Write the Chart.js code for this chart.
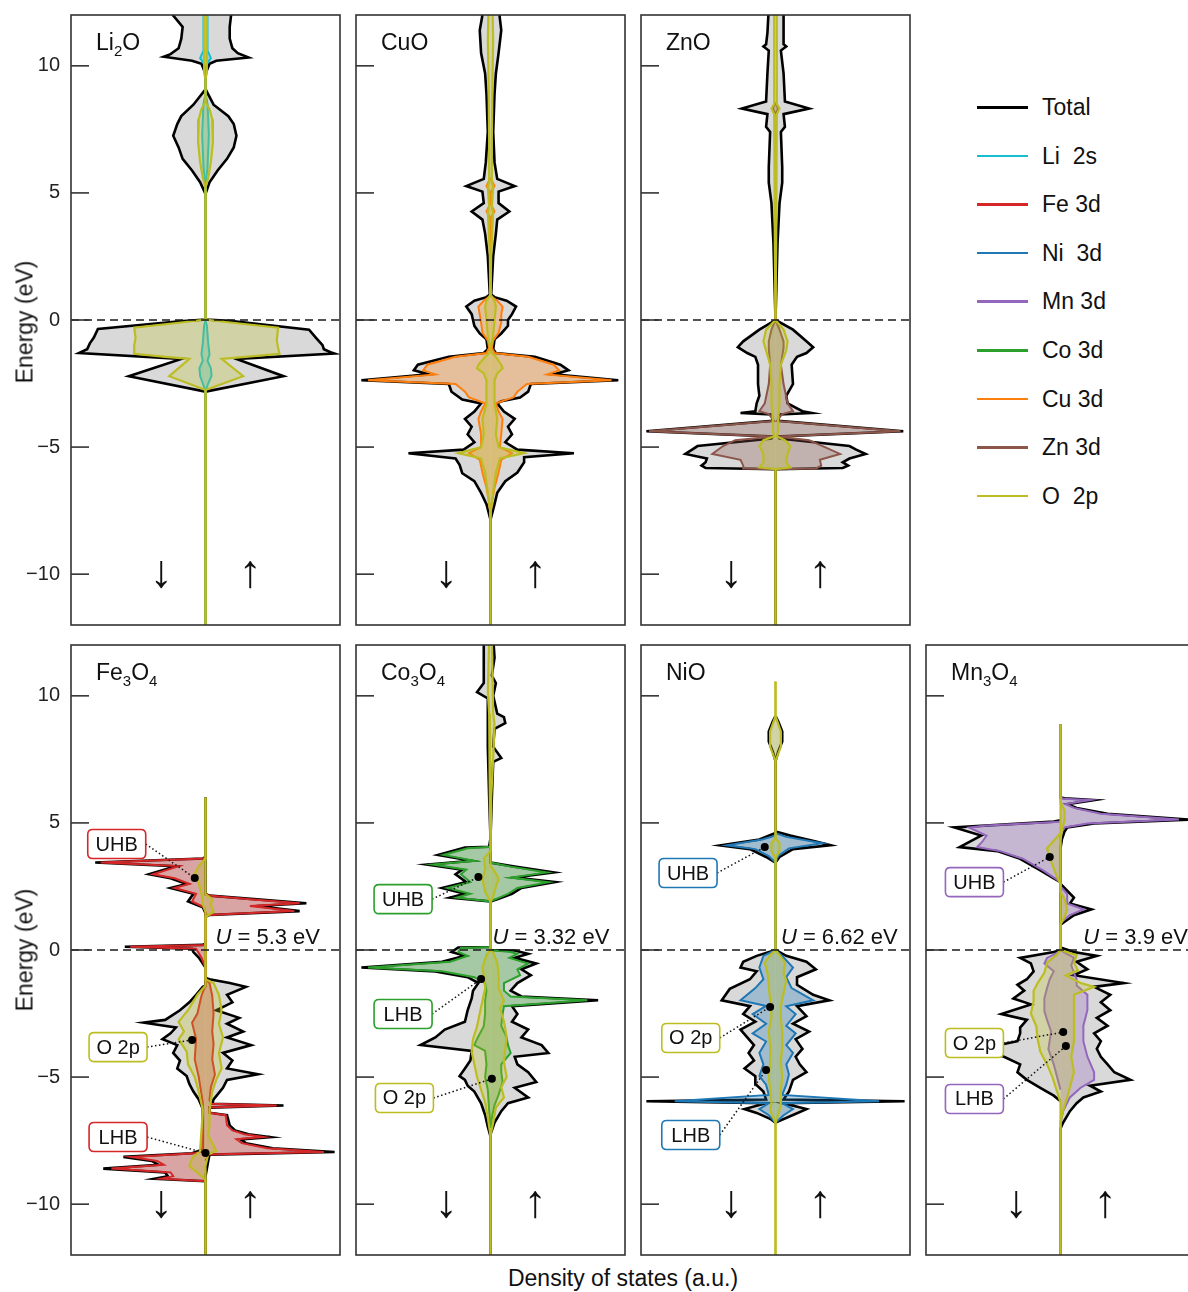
<!DOCTYPE html>
<html>
<head>
<meta charset="utf-8">
<title>Projected density of states of transition-metal oxides</title>
<script src="https://cdn.jsdelivr.net/npm/chart.js@4.4.1/dist/chart.umd.min.js"></script>
<style>
  html, body { margin:0; padding:0; background:#fff; }
  body { width:1188px; height:1292px; overflow:hidden; position:relative;
         font-family:"Liberation Sans", Arial, Helvetica, sans-serif; color:#111; }
  canvas { position:absolute; }
  .axlab { position:absolute; font-size:23px; white-space:nowrap; }
  .rot { transform: translate(-50%,-50%) rotate(-90deg); }
  .hor { transform: translate(-50%,-50%); }
  .leg { position:absolute; left:977px; height:30px; font-size:23px; white-space:pre; }
  .leg i { position:absolute; left:0; top:14px; width:51px; height:2.5px; }
  .leg span { position:absolute; left:65px; top:0; line-height:30px; }
</style>
</head>
<body>
<script>
// ---- energy axis ----------------------------------------------------------
const energyTicks = [-10, -5, 0, 5, 10];

// ---- DOS curves: [energy (eV), magnitude]; spin-down drawn to the left ----
// Li2O
const li2oTotUp = [[12.3,0.19],[11.98,0.19],[11.53,0.18],[11.07,0.18],[10.69,0.2],[10.5,0.24],[10.33,0.32],[10.2,0.08],[10.08,0.03],[9.69,0],[9.08,0],[8.47,0.06],[8.02,0.17],[7.71,0.21],[7.25,0.23],[6.79,0.21],[6.34,0.16],[5.88,0.09],[5.42,0.03],[4.96,0],[0.02,0],[-0.03,0.18],[-0.38,0.77],[-0.69,0.82],[-0.99,0.87],[-1.15,0.88],[-1.27,0.93],[-1.32,0.96],[-1.53,0.23],[-2.21,0.58],[-2.82,0],[-12.3,0]];
const li2oTotDn = [[12.3,0.24],[11.98,0.24],[11.53,0.17],[11.07,0.18],[10.69,0.2],[10.46,0.26],[10.36,0.31],[10.2,0.1],[10.08,0.03],[9.69,0],[9.08,0],[8.47,0.09],[8.02,0.18],[7.71,0.21],[7.25,0.24],[6.79,0.2],[6.34,0.17],[5.88,0.1],[5.42,0.04],[4.96,0],[0.02,0],[-0.05,0.19],[-0.35,0.8],[-0.69,0.83],[-0.92,0.86],[-1.15,0.88],[-1.3,0.94],[-1.53,0.18],[-2.21,0.57],[-2.82,0],[-12.3,0]];
const li2oLiUp  = [[12.3,0.015],[10.6,0.015],[10.3,0.04],[10.12,0.015],[9.85,0],[8.9,0],[8.5,0.015],[7.3,0.025],[6.0,0.015],[5.3,0],[-0.05,0],[-0.2,0.01],[-0.9,0.02],[-1.35,0.03],[-1.6,0.015],[-1.9,0.04],[-2.2,0.045],[-2.5,0.02],[-2.8,0],[-12.3,0]];
const li2oLiDn  = [[12.3,0.015],[10.6,0.015],[10.3,0.04],[10.12,0.015],[9.85,0],[8.9,0],[8.5,0.015],[7.3,0.025],[6.0,0.015],[5.3,0],[-0.05,0],[-0.2,0.01],[-0.9,0.02],[-1.35,0.03],[-1.6,0.02],[-1.9,0.045],[-2.2,0.04],[-2.5,0.02],[-2.8,0],[-12.3,0]];
const li2oOUp   = [[12.3,0.01],[9.7,0.01],[9.5,0],[8.6,0],[8.3,0.03],[7.9,0.05],[7.0,0.055],[6.2,0.04],[5.6,0.02],[5.2,0],[0.02,0],[-0.08,0.15],[-0.3,0.54],[-0.8,0.53],[-1.1,0.54],[-1.33,0.55],[-1.45,0.3],[-1.53,0.12],[-2.21,0.28],[-2.75,0],[-12.3,0]];
const li2oODn   = [[12.3,0.01],[9.7,0.01],[9.5,0],[8.6,0],[8.3,0.03],[7.9,0.05],[7.0,0.055],[6.2,0.04],[5.6,0.02],[5.2,0],[0.02,0],[-0.08,0.15],[-0.3,0.53],[-0.7,0.52],[-1.0,0.53],[-1.33,0.53],[-1.45,0.3],[-1.53,0.12],[-2.21,0.27],[-2.75,0],[-12.3,0]];

// CuO
const cuoTotUp = [[12.3,0.06],[11.4,0.08],[10.5,0.06],[9.7,0.04],[8.9,0.03],[7.4,0.02],[6.2,0.03],[5.55,0.05],[5.27,0.18],[5.05,0.06],[4.6,0.06],[4.27,0.14],[3.95,0.05],[3.4,0.04],[2.5,0.02],[1.5,0.01],[1.0,0.005],[0.9,0.03],[0.76,0.12],[0.53,0.19],[0.23,0.16],[0.0,0.13],[-0.23,0.13],[-0.53,0.08],[-0.76,0.03],[-1.15,0.02],[-1.3,0.04],[-1.45,0.33],[-1.76,0.52],[-1.98,0.58],[-2.14,0.47],[-2.37,0.95],[-2.52,0.3],[-2.82,0.28],[-3.05,0.22],[-3.2,0.08],[-3.28,0.05],[-3.6,0.1],[-3.89,0.18],[-4.2,0.13],[-4.5,0.16],[-4.81,0.11],[-5.1,0.2],[-5.24,0.62],[-5.4,0.25],[-5.6,0.25],[-6.0,0.2],[-6.34,0.11],[-6.8,0.05],[-7.25,0.03],[-7.86,0],[-12.3,0]];
const cuoTotDn = [[12.3,0.05],[11.4,0.08],[10.5,0.07],[9.7,0.04],[8.9,0.03],[7.4,0.02],[6.2,0.035],[5.55,0.05],[5.27,0.18],[5.05,0.06],[4.6,0.05],[4.27,0.14],[3.95,0.06],[3.4,0.04],[2.5,0.02],[1.5,0.01],[1.0,0.005],[0.9,0.03],[0.76,0.12],[0.53,0.18],[0.23,0.14],[0.0,0.13],[-0.23,0.12],[-0.53,0.08],[-0.76,0.03],[-1.15,0.02],[-1.3,0.05],[-1.45,0.31],[-1.76,0.54],[-1.98,0.57],[-2.14,0.46],[-2.37,0.96],[-2.52,0.31],[-2.82,0.29],[-3.13,0.21],[-3.28,0.07],[-3.6,0.12],[-3.89,0.19],[-4.2,0.14],[-4.5,0.17],[-4.81,0.12],[-5.1,0.2],[-5.24,0.61],[-5.45,0.26],[-5.7,0.23],[-6.03,0.21],[-6.34,0.12],[-6.8,0.07],[-7.25,0.03],[-7.86,0],[-12.3,0]];
const cuoCuUp  = [[5.6,0],[5.27,0.03],[5.0,0],[4.6,0],[4.27,0.03],[4.0,0],[0.95,0],[0.76,0.05],[0.53,0.09],[0.2,0.08],[-0.1,0.08],[-0.5,0.06],[-0.8,0.02],[-1.1,0.01],[-1.3,0.03],[-1.45,0.28],[-1.76,0.47],[-1.98,0.51],[-2.14,0.42],[-2.37,0.9],[-2.52,0.27],[-2.82,0.2],[-3.05,0.17],[-3.28,0.04],[-3.6,0.06],[-3.89,0.09],[-4.5,0.08],[-5.0,0.07],[-5.24,0.16],[-5.5,0.08],[-6.0,0.06],[-6.6,0.03],[-7.2,0.01],[-7.7,0]];
const cuoCuDn  = [[5.6,0],[5.27,0.03],[5.0,0],[4.6,0],[4.27,0.03],[4.0,0],[0.95,0],[0.76,0.05],[0.53,0.09],[0.2,0.08],[-0.1,0.07],[-0.5,0.06],[-0.8,0.02],[-1.1,0.01],[-1.3,0.03],[-1.45,0.26],[-1.76,0.47],[-1.98,0.5],[-2.14,0.41],[-2.37,0.91],[-2.52,0.26],[-2.82,0.19],[-3.05,0.16],[-3.28,0.04],[-3.6,0.07],[-3.89,0.09],[-4.5,0.07],[-5.0,0.07],[-5.24,0.16],[-5.5,0.08],[-6.0,0.06],[-6.6,0.03],[-7.2,0.01],[-7.7,0]];
const cuoOUp   = [[12.3,0.015],[11.0,0.02],[9.5,0.015],[7.0,0.01],[5.4,0.01],[5.27,0.02],[4.4,0.01],[4.27,0.02],[2.5,0.005],[1.0,0],[0.76,0.03],[0.53,0.04],[0.0,0.03],[-0.6,0.02],[-1.15,0],[-1.3,0.01],[-1.45,0.04],[-1.76,0.08],[-1.9,0.09],[-2.1,0.05],[-2.37,0.03],[-2.8,0.03],[-3.3,0.03],[-3.89,0.05],[-4.5,0.04],[-5.0,0.06],[-5.24,0.25],[-5.45,0.07],[-6.0,0.04],[-6.8,0.02],[-7.6,0],[-12.3,0]];
const cuoODn   = [[12.3,0.015],[11.0,0.02],[9.5,0.015],[7.0,0.01],[5.4,0.01],[5.27,0.02],[4.4,0.01],[4.27,0.02],[2.5,0.005],[1.0,0],[0.76,0.03],[0.53,0.04],[0.0,0.03],[-0.6,0.02],[-1.15,0],[-1.3,0.01],[-1.45,0.04],[-1.76,0.09],[-1.9,0.1],[-2.1,0.05],[-2.37,0.03],[-2.8,0.03],[-3.3,0.03],[-3.89,0.06],[-4.5,0.05],[-5.0,0.07],[-5.24,0.24],[-5.45,0.07],[-6.0,0.04],[-6.8,0.02],[-7.6,0],[-12.3,0]];

// ZnO
const znoTotUp = [[12.3,0.06],[11.3,0.06],[10.85,0.06],[10.76,0.08],[10.6,0.04],[9.7,0.06],[8.6,0.07],[8.32,0.25],[8.1,0.06],[7.6,0.07],[7.4,0.04],[6.0,0.05],[5.4,0.05],[4.6,0.03],[3.0,0.015],[0,0],[-0.38,0.13],[-0.84,0.23],[-1.07,0.28],[-1.3,0.23],[-1.45,0.16],[-1.76,0.12],[-2.52,0.13],[-2.98,0.08],[-3.28,0.09],[-3.59,0.2],[-3.66,0.27],[-3.72,0.03],[-3.97,0.02],[-4.38,0.95],[-4.58,0.02],[-4.66,0.03],[-4.96,0.55],[-5.1,0.6],[-5.27,0.67],[-5.45,0.55],[-5.6,0.5],[-5.73,0.54],[-5.82,0.5],[-5.87,0],[-12.3,0]];
const znoTotDn = [[12.3,0.05],[11.3,0.06],[10.85,0.07],[10.76,0.09],[10.6,0.05],[9.7,0.06],[8.6,0.07],[8.32,0.25],[8.1,0.06],[7.6,0.07],[7.4,0.04],[6.0,0.05],[5.4,0.05],[4.6,0.03],[3.0,0.015],[0,0],[-0.38,0.12],[-0.84,0.24],[-1.07,0.28],[-1.3,0.21],[-1.45,0.15],[-1.76,0.13],[-2.52,0.13],[-2.98,0.12],[-3.28,0.14],[-3.59,0.15],[-3.66,0.26],[-3.72,0.03],[-3.97,0.02],[-4.38,0.96],[-4.58,0.02],[-4.66,0.03],[-4.96,0.58],[-5.1,0.62],[-5.27,0.67],[-5.45,0.51],[-5.6,0.52],[-5.73,0.55],[-5.82,0.52],[-5.87,0],[-12.3,0]];
const znoZnUp  = [[8.55,0],[8.32,0.02],[8.1,0],[0,0],[-0.38,0.03],[-0.84,0.06],[-1.1,0.06],[-1.76,0.04],[-2.52,0.06],[-3.28,0.09],[-3.59,0.13],[-3.7,0.05],[-3.97,0.01],[-4.38,0.93],[-4.58,0.02],[-4.73,0.25],[-4.96,0.35],[-5.27,0.48],[-5.5,0.33],[-5.73,0.34],[-5.84,0.3],[-5.87,0]];
const znoZnDn  = [[8.55,0],[8.32,0.02],[8.1,0],[0,0],[-0.38,0.03],[-0.84,0.05],[-1.1,0.05],[-1.76,0.04],[-2.52,0.05],[-3.28,0.08],[-3.59,0.12],[-3.7,0.05],[-3.97,0.01],[-4.38,0.94],[-4.58,0.02],[-4.73,0.3],[-4.96,0.39],[-5.27,0.47],[-5.5,0.26],[-5.73,0.24],[-5.84,0.24],[-5.87,0]];
const znoOUp   = [[12.3,0.01],[8.5,0.01],[8.32,0.03],[8.1,0.01],[3,0.005],[0,0],[-0.38,0.06],[-0.84,0.09],[-1.2,0.08],[-1.76,0.04],[-2.5,0.03],[-3.28,0.03],[-3.9,0.02],[-4.38,0.02],[-4.58,0.01],[-4.73,0.07],[-4.96,0.11],[-5.27,0.09],[-5.6,0.08],[-5.8,0.11],[-5.87,0],[-12.3,0]];
const znoODn   = [[12.3,0.01],[8.5,0.01],[8.32,0.03],[8.1,0.01],[3,0.005],[0,0],[-0.38,0.07],[-0.84,0.09],[-1.2,0.07],[-1.76,0.04],[-2.5,0.03],[-3.28,0.03],[-3.9,0.02],[-4.38,0.02],[-4.58,0.01],[-4.73,0.09],[-4.96,0.12],[-5.27,0.09],[-5.6,0.09],[-5.8,0.12],[-5.87,0],[-12.3,0]];

// Fe3O4
const feTotUp = [[6.0,0],[2.2,0],[2.14,0.03],[2.0,0.36],[1.84,0.75],[1.73,0.38],[1.53,0.7],[1.38,0.03],[1.3,0],[-1.1,0],[-1.15,0.03],[-1.3,0.18],[-1.45,0.3],[-1.76,0.16],[-2.06,0.2],[-2.37,0.08],[-2.67,0.25],[-2.9,0.16],[-3.21,0.28],[-3.44,0.16],[-3.74,0.34],[-4.05,0.13],[-4.35,0.2],[-4.66,0.16],[-4.89,0.39],[-5.11,0.16],[-5.42,0.13],[-5.88,0.06],[-6.05,0.05],[-6.12,0.58],[-6.2,0.03],[-6.4,0.03],[-6.5,0.16],[-6.9,0.18],[-7.1,0.22],[-7.25,0.32],[-7.36,0.48],[-7.45,0.26],[-7.6,0.3],[-7.8,0.5],[-7.95,0.96],[-8.05,0.03],[-8.3,0.02],[-8.9,0],[-12.3,0]];
const feTotDn = [[6.0,0],[3.67,0],[3.6,0.02],[3.44,0.82],[3.3,0.22],[2.98,0.42],[2.82,0.26],[2.6,0.14],[2.44,0.26],[2.21,0.09],[1.91,0.13],[1.68,0.02],[1.45,0],[0.25,0],[0.2,0.02],[0.13,0.6],[0.05,0.1],[-0.08,0.09],[-0.3,0.05],[-0.69,0],[-1.4,0],[-1.45,0.02],[-1.76,0.07],[-2.06,0.12],[-2.37,0.19],[-2.75,0.3],[-2.86,0.46],[-3.05,0.22],[-3.28,0.26],[-3.51,0.32],[-3.74,0.21],[-4.05,0.24],[-4.35,0.19],[-4.66,0.21],[-4.96,0.14],[-5.27,0.12],[-5.57,0.09],[-5.88,0.05],[-6.26,0.02],[-7.85,0.02],[-8.0,0.1],[-8.14,0.61],[-8.3,0.4],[-8.45,0.35],[-8.6,0.76],[-8.75,0.3],[-8.9,0.28],[-9.0,0.38],[-9.1,0],[-12.3,0]];
const feFeUp  = [[2.2,0],[2.14,0.02],[2.0,0.33],[1.84,0.7],[1.73,0.33],[1.53,0.66],[1.38,0.02],[1.3,0],[-1.15,0],[-1.3,0.03],[-1.8,0.05],[-2.5,0.06],[-3.2,0.05],[-3.7,0.06],[-4.3,0.05],[-4.9,0.07],[-5.4,0.04],[-5.9,0.03],[-6.05,0.04],[-6.12,0.53],[-6.2,0.03],[-6.4,0.03],[-6.5,0.15],[-6.9,0.16],[-7.1,0.2],[-7.25,0.29],[-7.36,0.43],[-7.45,0.23],[-7.6,0.27],[-7.8,0.46],[-7.95,0.88],[-8.05,0.02],[-8.3,0]];
const feFeDn  = [[3.67,0],[3.6,0.02],[3.44,0.78],[3.3,0.2],[2.98,0.39],[2.82,0.23],[2.6,0.12],[2.44,0.23],[2.21,0.07],[1.91,0.1],[1.68,0.01],[1.45,0],[0.25,0],[0.2,0.01],[0.13,0.56],[0.05,0.07],[-0.3,0.03],[-0.69,0],[-1.4,0],[-1.8,0.03],[-2.5,0.06],[-2.86,0.1],[-3.5,0.07],[-4.3,0.08],[-5.0,0.05],[-6.0,0.02],[-7.9,0.02],[-8.0,0.08],[-8.14,0.55],[-8.3,0.36],[-8.45,0.31],[-8.6,0.7],[-8.75,0.26],[-8.9,0.24],[-9.0,0.33],[-9.1,0]];
const feOUp   = [[6.0,0],[2.2,0],[2.0,0.05],[1.8,0.04],[1.5,0.06],[1.3,0],[-1.15,0],[-1.3,0.06],[-1.76,0.1],[-2.37,0.12],[-2.9,0.1],[-3.44,0.13],[-4.05,0.1],[-4.66,0.12],[-5.11,0.08],[-5.57,0.05],[-6.3,0.03],[-6.9,0.03],[-7.3,0.02],[-7.9,0.08],[-8.05,0.02],[-8.5,0],[-12.3,0]];
const feODn   = [[6.0,0],[3.6,0],[3.3,0.05],[3.0,0.08],[2.6,0.05],[2.2,0.03],[1.8,0.02],[1.5,0],[-1.4,0],[-1.76,0.06],[-2.37,0.13],[-2.83,0.2],[-3.2,0.16],[-3.51,0.2],[-4.0,0.14],[-4.5,0.13],[-5.0,0.08],[-5.6,0.05],[-6.3,0.02],[-7.9,0.04],[-8.2,0.1],[-8.5,0.12],[-8.8,0.05],[-9.05,0],[-12.3,0]];

// Co3O4
const coTotUp = [[12.3,0.02],[11.5,0.03],[10.8,0.01],[10.5,0.04],[10.0,0.02],[9.3,0.05],[9.16,0.1],[8.93,0.11],[8.7,0.03],[8.0,0.02],[7.55,0.08],[7.4,0.02],[6.0,0.01],[4.4,0],[3.44,0],[3.28,0.18],[3.05,0.47],[2.85,0.18],[2.67,0.48],[2.44,0.23],[2.21,0.16],[2.0,0.05],[1.91,0],[0.0,0],[-0.02,0.18],[-0.15,0.28],[-0.31,0.18],[-0.53,0.34],[-0.76,0.23],[-0.99,0.3],[-1.3,0.2],[-1.6,0.15],[-1.83,0.23],[-1.98,0.8],[-2.21,0.16],[-2.52,0.2],[-2.82,0.16],[-3.13,0.28],[-3.44,0.23],[-3.74,0.38],[-4.05,0.43],[-4.2,0.18],[-4.5,0.2],[-4.81,0.28],[-5.19,0.34],[-5.42,0.18],[-5.8,0.28],[-6.03,0.13],[-6.34,0.08],[-6.79,0.03],[-7.25,0],[-12.3,0]];
const coTotDn = [[12.3,0.05],[11.5,0.05],[10.5,0.05],[10.15,0.1],[9.9,0.02],[9.0,0.02],[8.0,0.02],[6.0,0.01],[4.4,0],[4.06,0.01],[4.03,0.19],[3.74,0.39],[3.51,0.14],[3.36,0.47],[3.16,0.21],[2.98,0.26],[2.67,0.18],[2.44,0.36],[2.21,0.19],[2.06,0.3],[1.91,0],[0.12,0],[0.1,0.24],[-0.08,0.29],[-0.23,0.19],[-0.46,0.36],[-0.69,0.96],[-0.84,0.41],[-1.07,0.17],[-1.3,0.09],[-1.6,0.13],[-1.91,0.14],[-2.37,0.17],[-2.82,0.19],[-3.13,0.34],[-3.44,0.41],[-3.74,0.52],[-3.97,0.14],[-4.35,0.15],[-4.66,0.19],[-4.96,0.23],[-5.11,0.19],[-5.34,0.17],[-5.57,0.12],[-6.03,0.07],[-6.49,0.04],[-6.95,0.02],[-7.33,0],[-12.3,0]];
const coCoUp  = [[3.44,0],[3.28,0.15],[3.05,0.42],[2.85,0.15],[2.67,0.43],[2.44,0.2],[2.21,0.13],[2.0,0.04],[1.91,0],[0,0],[-0.08,0.15],[-0.15,0.2],[-0.31,0.14],[-0.53,0.28],[-0.76,0.2],[-0.99,0.22],[-1.3,0.1],[-1.6,0.1],[-1.83,0.15],[-1.98,0.72],[-2.21,0.1],[-2.52,0.09],[-2.98,0.08],[-3.44,0.12],[-3.74,0.13],[-4.05,0.15],[-4.5,0.08],[-4.81,0.08],[-5.2,0.09],[-5.7,0.06],[-6.1,0.03],[-6.6,0.01],[-7.0,0]];
const coCoDn  = [[4.06,0],[4.0,0.17],[3.74,0.35],[3.51,0.12],[3.36,0.43],[3.16,0.18],[2.98,0.22],[2.67,0.15],[2.44,0.32],[2.21,0.15],[2.06,0.25],[1.91,0],[0.12,0],[0.08,0.22],[-0.08,0.24],[-0.23,0.17],[-0.46,0.3],[-0.69,0.91],[-0.84,0.36],[-1.07,0.12],[-1.3,0.04],[-1.6,0.03],[-2.0,0.04],[-2.5,0.04],[-3.0,0.05],[-3.5,0.1],[-3.74,0.12],[-3.97,0.04],[-4.5,0.03],[-5.0,0.04],[-5.5,0.02],[-6.3,0.01],[-7.0,0]];
const coOUp   = [[12.3,0.01],[9.3,0.02],[8.9,0.03],[7.5,0.02],[6.0,0.005],[3.3,0],[3.1,0.03],[2.8,0.06],[2.5,0.04],[2.1,0.02],[1.9,0],[0,0],[-0.1,0.02],[-0.5,0.05],[-1.0,0.06],[-1.5,0.06],[-2.0,0.1],[-2.3,0.07],[-2.8,0.1],[-3.4,0.12],[-3.9,0.11],[-4.4,0.1],[-5.0,0.12],[-5.4,0.08],[-5.8,0.1],[-6.2,0.04],[-6.8,0.02],[-7.3,0],[-12.3,0]];
const coODn   = [[12.3,0.01],[10.15,0.02],[9.3,0.01],[6.0,0.005],[3.9,0],[3.6,0.05],[3.2,0.04],[2.8,0.06],[2.3,0.04],[1.9,0],[0,0],[-0.2,0.03],[-0.7,0.06],[-1.0,0.05],[-1.5,0.04],[-2.0,0.06],[-2.5,0.08],[-3.0,0.1],[-3.5,0.13],[-4.0,0.14],[-4.5,0.12],[-5.0,0.1],[-5.5,0.07],[-6.0,0.04],[-6.6,0.02],[-7.3,0],[-12.3,0]];

// NiO
const niTotUp = [[9.2,0],[9.0,0.02],[8.6,0.05],[8.2,0.05],[7.8,0.02],[7.43,0],[4.66,0],[4.5,0.11],[4.27,0.3],[4.12,0.41],[3.97,0.13],[3.66,0.03],[3.44,0],[0,0],[-0.23,0.08],[-0.46,0.23],[-0.76,0.3],[-1.07,0.16],[-1.37,0.16],[-1.76,0.28],[-1.98,0.4],[-2.21,0.16],[-2.6,0.23],[-2.9,0.13],[-3.21,0.25],[-3.51,0.15],[-3.89,0.2],[-4.2,0.15],[-4.5,0.18],[-4.81,0.23],[-5.11,0.13],[-5.57,0.1],[-5.88,0.06],[-5.95,0.96],[-6.03,0.06],[-6.26,0.23],[-6.49,0.13],[-6.79,0]];
const niTotDn = [[9.2,0],[9.0,0.02],[8.6,0.05],[8.2,0.05],[7.8,0.02],[7.43,0],[4.6,0],[4.35,0.12],[4.12,0.41],[3.97,0.19],[3.66,0.07],[3.44,0],[0,0],[-0.23,0.14],[-0.46,0.24],[-0.69,0.26],[-0.84,0.14],[-1.15,0.19],[-1.53,0.34],[-1.98,0.4],[-2.21,0.19],[-2.52,0.24],[-2.82,0.15],[-3.13,0.26],[-3.44,0.21],[-3.74,0.16],[-4.05,0.2],[-4.35,0.16],[-4.66,0.23],[-4.96,0.15],[-5.27,0.15],[-5.57,0.09],[-5.88,0.07],[-5.95,0.96],[-6.03,0.07],[-6.26,0.23],[-6.41,0.14],[-6.64,0.04],[-6.79,0]];
const niNiUp  = [[4.6,0],[4.45,0.08],[4.2,0.35],[4.0,0.1],[3.7,0.02],[3.44,0],[0,0],[-0.23,0.05],[-0.69,0.13],[-1.07,0.08],[-1.5,0.12],[-1.98,0.28],[-2.21,0.08],[-2.52,0.15],[-2.98,0.08],[-3.28,0.15],[-3.74,0.08],[-4.05,0.13],[-4.5,0.08],[-4.9,0.1],[-5.3,0.08],[-5.7,0.05],[-5.95,0.77],[-6.03,0.05],[-6.26,0.13],[-6.5,0.06],[-6.8,0]];
const niNiDn  = [[4.5,0],[4.35,0.1],[4.12,0.36],[3.97,0.15],[3.7,0.05],[3.44,0],[0,0],[-0.23,0.09],[-0.69,0.12],[-1.15,0.09],[-1.5,0.15],[-1.98,0.26],[-2.2,0.07],[-2.52,0.17],[-2.9,0.07],[-3.28,0.17],[-3.6,0.07],[-4.05,0.12],[-4.5,0.09],[-4.96,0.12],[-5.3,0.07],[-5.7,0.05],[-5.95,0.75],[-6.03,0.05],[-6.26,0.12],[-6.5,0.05],[-6.8,0]];
const niOUp   = [[10.56,0],[9.2,0],[8.6,0.04],[8.0,0.04],[7.43,0],[4.4,0],[4.2,0.03],[3.9,0.03],[3.6,0],[0,0],[-0.2,0.03],[-0.5,0.07],[-0.9,0.06],[-1.2,0.08],[-1.7,0.06],[-2.2,0.04],[-2.7,0.04],[-3.2,0.05],[-3.8,0.05],[-4.4,0.04],[-5.0,0.05],[-5.5,0.04],[-6.0,0.04],[-6.3,0.03],[-6.8,0],[-12.3,0]];
const niODn   = [[10.56,0],[9.2,0],[8.6,0.04],[8.0,0.04],[7.43,0],[4.4,0],[4.2,0.03],[3.9,0.03],[3.6,0],[0,0],[-0.2,0.04],[-0.5,0.08],[-0.9,0.06],[-1.4,0.05],[-2.0,0.04],[-2.6,0.03],[-3.2,0.05],[-3.8,0.04],[-4.4,0.04],[-5.0,0.05],[-5.5,0.04],[-6.0,0.03],[-6.3,0.04],[-6.8,0],[-12.3,0]];

// Mn3O4
const mnTotUp = [[8.88,0],[6.0,0],[5.97,0.03],[5.9,0.25],[5.74,0.05],[5.59,0.12],[5.36,0.35],[5.13,0.95],[4.98,0.25],[4.82,0.05],[4.66,0.03],[4.35,0.01],[4.0,0],[2.6,0],[2.44,0.03],[2.06,0.1],[1.83,0.07],[1.6,0.23],[1.37,0.1],[1.07,0.02],[0.99,0],[0.1,0],[-0.08,0.1],[-0.23,0.27],[-0.46,0.12],[-0.76,0.2],[-0.99,0.1],[-1.3,0.47],[-1.45,0.25],[-1.76,0.37],[-2.06,0.3],[-2.37,0.37],[-2.67,0.27],[-2.98,0.35],[-3.28,0.25],[-3.59,0.3],[-3.89,0.27],[-4.2,0.3],[-4.5,0.35],[-4.81,0.4],[-5.11,0.52],[-5.34,0.22],[-5.57,0.3],[-5.8,0.17],[-6.03,0.12],[-6.34,0.07],[-6.79,0.02],[-7.02,0],[-12.3,0]];
const mnTotDn = [[5.1,0],[5.05,0.05],[4.82,0.79],[4.5,0.59],[4.27,0.67],[4.05,0.75],[3.89,0.47],[3.59,0.3],[3.13,0.15],[2.82,0.05],[2.67,0],[0,0],[-0.08,0.05],[-0.31,0.3],[-0.53,0.22],[-0.84,0.2],[-1.15,0.25],[-1.37,0.32],[-1.6,0.27],[-1.91,0.35],[-2.14,0.22],[-2.52,0.44],[-2.75,0.25],[-3.05,0.3],[-3.28,0.3],[-3.59,0.32],[-3.89,0.6],[-4.2,0.42],[-4.5,0.3],[-4.81,0.32],[-5.11,0.25],[-5.42,0.15],[-5.73,0.05],[-5.95,0]];
const mnMnUp  = [[6.0,0],[5.95,0.02],[5.9,0.22],[5.74,0.04],[5.59,0.1],[5.36,0.3],[5.13,0.88],[4.98,0.2],[4.82,0.03],[4.6,0],[2.5,0],[2.2,0.05],[1.83,0.05],[1.6,0.17],[1.37,0.07],[1.07,0],[0,0],[-0.1,0.03],[-0.3,0.1],[-0.6,0.08],[-0.9,0.1],[-1.15,0.12],[-1.4,0.12],[-1.76,0.2],[-2.37,0.2],[-2.98,0.17],[-3.59,0.17],[-4.2,0.2],[-4.81,0.25],[-5.11,0.25],[-5.42,0.15],[-5.8,0.07],[-6.34,0.02],[-6.8,0]];
const mnMnDn  = [[5.05,0],[4.9,0.55],[4.82,0.68],[4.5,0.55],[4.27,0.58],[4.05,0.62],[3.89,0.45],[3.59,0.28],[3.13,0.13],[2.82,0.04],[2.67,0],[0,0],[-0.1,0.02],[-0.31,0.1],[-0.53,0.12],[-0.84,0.05],[-1.15,0.08],[-1.5,0.1],[-1.9,0.12],[-2.4,0.12],[-2.75,0.1],[-3.2,0.07],[-3.9,0.09],[-4.5,0.05],[-5.1,0.02],[-5.5,0]];
const mnOUp   = [[8.88,0],[5.8,0],[5.5,0.03],[5.1,0.03],[4.7,0.01],[4.3,0],[2.3,0],[2.0,0.03],[1.6,0.05],[1.3,0.03],[1.0,0],[0,0],[-0.2,0.12],[-0.5,0.1],[-0.8,0.13],[-1.0,0.04],[-1.3,0.15],[-1.45,0.25],[-1.76,0.1],[-2.37,0.1],[-2.98,0.1],[-3.59,0.1],[-4.2,0.08],[-4.81,0.1],[-5.2,0.08],[-5.8,0.05],[-6.3,0.02],[-6.8,0],[-12.3,0]];
const mnODn   = [[8.88,0],[4.6,0],[4.3,0.05],[4.0,0.1],[3.6,0.08],[3.2,0.05],[2.8,0.02],[2.6,0],[0,0],[-0.2,0.03],[-0.5,0.1],[-0.9,0.12],[-1.3,0.17],[-1.6,0.2],[-2.0,0.2],[-2.5,0.22],[-3.0,0.18],[-3.5,0.17],[-4.0,0.15],[-4.5,0.1],[-5.0,0.06],[-5.5,0.03],[-6.0,0],[-12.3,0]];

// ---- legend ----------------------------------------------------------------
const legendLabels = ['Total', 'Li  2s', 'Fe 3d', 'Ni  3d', 'Mn 3d', 'Co 3d', 'Cu 3d', 'Zn 3d', 'O  2p'];
const legendKeys   = ['total', 'li', 'fe', 'ni', 'mn', 'co', 'cu', 'zn', 'o'];

// ---- styling ---------------------------------------------------------------
const FONT = '"Liberation Sans", Arial, Helvetica, sans-serif';
const COLORS = { total:'#000000', li:'#17becf', fe:'#d62728', ni:'#1f77b4', mn:'#9467bd',
                 co:'#2ca02c', cu:'#ff7f0e', zn:'#8c564b', o:'#bcbd22' };
function rgba(hex, a) {
  const n = parseInt(hex.slice(1), 16);
  return `rgba(${(n >> 16) & 255},${(n >> 8) & 255},${n & 255},${a})`;
}

// ---- panel layout ----------------------------------------------------------
const panels = [
  { title:['Li','2','O'], left:71,  top:15,  labels:true,  el:'li', tot:[li2oTotUp, li2oTotDn], pe:[li2oLiUp, li2oLiDn], o:[li2oOUp, li2oODn] },
  { title:['CuO'],        left:356, top:15,  labels:false, el:'cu', tot:[cuoTotUp, cuoTotDn], pe:[cuoCuUp, cuoCuDn], o:[cuoOUp, cuoODn] },
  { title:['ZnO'],        left:641, top:15,  labels:false, el:'zn', tot:[znoTotUp, znoTotDn], pe:[znoZnUp, znoZnDn], o:[znoOUp, znoODn] },
  { title:['Fe','3','O','4'], left:71,  top:645, labels:true, el:'fe', tot:[feTotUp, feTotDn], pe:[feFeUp, feFeDn], o:[feOUp, feODn],
    U:{ text:'5.3', x:0.074 },
    bands:[ {t:'UHB', c:'fe', bx:-0.66, be:4.17, px:-0.08, pe:2.83},
            {t:'O 2p', c:'o', bx:-0.65, be:-3.82, px:-0.10, pe:-3.54},
            {t:'LHB', c:'fe', bx:-0.65, be:-7.36, px:0.0, pe:-7.99} ] },
  { title:['Co','3','O','4'], left:356, top:645, labels:false, el:'co', tot:[coTotUp, coTotDn], pe:[coCoUp, coCoDn], o:[coOUp, coODn],
    U:{ text:'3.32', x:0.015 },
    bands:[ {t:'UHB', c:'co', bx:-0.65, be:2.0, px:-0.09, pe:2.87},
            {t:'LHB', c:'co', bx:-0.65, be:-2.52, px:-0.07, pe:-1.14},
            {t:'O 2p', c:'o', bx:-0.64, be:-5.82, px:0.01, pe:-5.07} ] },
  { title:['NiO'], left:641, top:645, labels:false, el:'ni', tot:[niTotUp, niTotDn], pe:[niNiUp, niNiDn], o:[niOUp, niODn],
    U:{ text:'6.62', x:0.04 },
    bands:[ {t:'UHB', c:'ni', bx:-0.65, be:3.03, px:-0.08, pe:4.05},
            {t:'O 2p', c:'o', bx:-0.63, be:-3.46, px:-0.04, pe:-2.24},
            {t:'LHB', c:'ni', bx:-0.63, be:-7.28, px:-0.07, pe:-4.72} ] },
  { title:['Mn','3','O','4'], left:926, top:645, labels:false, el:'mn', tot:[mnTotUp, mnTotDn], pe:[mnMnUp, mnMnDn], o:[mnOUp, mnODn],
    U:{ text:'3.9', x:0.17 },
    bands:[ {t:'UHB', c:'mn', bx:-0.64, be:2.67, px:-0.08, pe:3.66},
            {t:'O 2p', c:'o', bx:-0.64, be:-3.66, px:0.02, pe:-3.23},
            {t:'LHB', c:'mn', bx:-0.64, be:-5.86, px:0.04, pe:-3.78} ] },
];
const BOX_W = 269, BOX_H = 610, AXIS_W = 71;

// one filled curve: spin-up to the right, spin-down mirrored to the left
function curve(points, sign, key, lineWidth, alpha, order) {
  return {
    data: points.map(([e, v]) => ({ x: sign * v, y: e })),
    borderColor: COLORS[key],
    backgroundColor: rgba(COLORS[key], alpha),
    borderWidth: lineWidth,
    borderJoinStyle: 'miter',
    fill: 'origin',
    pointRadius: 0,
    tension: 0,
    order
  };
}

function roundRect(ctx, x, y, w, h, r) {
  ctx.beginPath();
  ctx.moveTo(x + r, y);
  ctx.lineTo(x + w - r, y); ctx.quadraticCurveTo(x + w, y, x + w, y + r);
  ctx.lineTo(x + w, y + h - r); ctx.quadraticCurveTo(x + w, y + h, x + w - r, y + h);
  ctx.lineTo(x + r, y + h); ctx.quadraticCurveTo(x, y + h, x, y + h - r);
  ctx.lineTo(x, y + r); ctx.quadraticCurveTo(x, y, x + r, y);
  ctx.closePath();
}

// frame, inner ticks, Fermi level, spin arrows, title and band labels
const panelDecor = {
  id: 'panelDecor',
  afterDatasetsDraw(chart, args, opts) {
    const p = opts.panel;
    const { ctx, chartArea: a, scales: { x, y } } = chart;
    ctx.save();

    const y0 = y.getPixelForValue(0);
    ctx.strokeStyle = '#1a1a1a'; ctx.lineWidth = 1.7;
    ctx.setLineDash([8, 5]);
    ctx.beginPath(); ctx.moveTo(a.left, y0); ctx.lineTo(a.right, y0); ctx.stroke();
    ctx.setLineDash([]);

    ctx.strokeStyle = '#333'; ctx.lineWidth = 1.6;
    for (const v of energyTicks) {
      const py = y.getPixelForValue(v);
      ctx.beginPath(); ctx.moveTo(a.left, py); ctx.lineTo(a.left + 18, py); ctx.stroke();
    }
    ctx.strokeRect(a.left, a.top, a.right - a.left, a.bottom - a.top);

    ctx.fillStyle = '#111'; ctx.textAlign = 'center'; ctx.textBaseline = 'middle';
    ctx.font = '46px ' + FONT;
    ctx.fillText('\u2193', x.getPixelForValue(-0.33), y.getPixelForValue(-10));
    ctx.fillText('\u2191', x.getPixelForValue(0.33), y.getPixelForValue(-10));

    // compound name with subscripts
    ctx.textAlign = 'left'; ctx.textBaseline = 'alphabetic';
    let tx = a.left + 25;
    const ty = a.top + 35;
    p.title.forEach((part, i) => {
      const sub = i % 2 === 1;
      ctx.font = (sub ? '15px ' : '23px ') + FONT;
      ctx.fillText(part, tx, ty + (sub ? 6 : 0));
      tx += ctx.measureText(part).width;
    });

    if (p.U) {
      let ux = x.getPixelForValue(p.U.x);
      const uy = y0 - 6;
      ctx.font = 'italic 22px ' + FONT;
      ctx.fillText('U', ux, uy);
      ux += ctx.measureText('U').width;
      ctx.font = '22px ' + FONT;
      ctx.fillText(' = ' + p.U.text + ' eV', ux, uy);
    }

    (p.bands || []).forEach(b => {
      const cx = x.getPixelForValue(b.bx), cy = y.getPixelForValue(b.be);
      const px = x.getPixelForValue(b.px), py = y.getPixelForValue(b.pe);
      const w = 58, h = 29;
      ctx.strokeStyle = '#111'; ctx.lineWidth = 1.5; ctx.setLineDash([1.5, 2.5]);
      ctx.beginPath(); ctx.moveTo(cx + w / 2, cy); ctx.lineTo(px, py); ctx.stroke();
      ctx.setLineDash([]);
      ctx.fillStyle = '#000';
      ctx.beginPath(); ctx.arc(px, py, 4, 0, Math.PI * 2); ctx.fill();
      roundRect(ctx, cx - w / 2, cy - h / 2, w, h, 5);
      ctx.fillStyle = '#fff'; ctx.fill();
      ctx.strokeStyle = COLORS[b.c]; ctx.lineWidth = 1.6; ctx.stroke();
      ctx.fillStyle = '#111'; ctx.font = '20px ' + FONT;
      ctx.textAlign = 'center'; ctx.textBaseline = 'middle';
      ctx.fillText(b.t, cx, cy + 1);
      ctx.textAlign = 'left'; ctx.textBaseline = 'alphabetic';
    });
    ctx.restore();
  }
};

Chart.defaults.font.family = FONT;

panels.forEach(p => {
  const padL = p.labels ? AXIS_W : 4;
  const W = BOX_W + padL + 4, H = BOX_H + 8;
  const canvas = document.createElement('canvas');
  canvas.width = W; canvas.height = H;
  canvas.style.left = (p.left - padL) + 'px';
  canvas.style.top = (p.top - 4) + 'px';
  canvas.style.width = W + 'px'; canvas.style.height = H + 'px';
  document.body.appendChild(canvas);

  const datasets = [
    curve(p.o[0], 1, 'o', 2.2, 0.28, 1),
    curve(p.o[1], -1, 'o', 2.2, 0.28, 1),
    curve(p.pe[0], 1, p.el, 2.0, 0.3, 2),
    curve(p.pe[1], -1, p.el, 2.0, 0.3, 2),
    curve(p.tot[0], 1, 'total', 2.6, 0.15, 3),
    curve(p.tot[1], -1, 'total', 2.6, 0.15, 3),
  ];

  new Chart(canvas, {
    type: 'line',
    data: { datasets },
    options: {
      responsive: false, animation: false, devicePixelRatio: 1,
      indexAxis: 'y',
      layout: { padding: { left: p.labels ? 0 : 4, right: 4, top: 4, bottom: 4 } },
      scales: {
        y: {
          type: 'linear', min: -12, max: 12, position: 'left', display: p.labels,
          afterFit(s) {
            if (!p.labels) return;
            s.width = AXIS_W;
            s.paddingTop = 0; s.paddingBottom = 0;
          },
          afterBuildTicks(s) { s.ticks = energyTicks.map(v => ({ value: v })); },
          grid: { display: false, drawTicks: false }, border: { display: false },
          ticks: { padding: 11, color: '#222', font: { size: 20, family: FONT },
                   callback: v => (v < 0 ? '\u2212' + Math.abs(v) : String(v)) }
        },
        x: { type: 'linear', min: -1, max: 1, display: false }
      },
      plugins: { legend: { display: false }, tooltip: { enabled: false }, panelDecor: { panel: p } },
      elements: { point: { radius: 0 }, line: { tension: 0 } }
    },
    plugins: [panelDecor]
  });
});

// legend block
legendLabels.forEach((lab, i) => {
  const d = document.createElement('div');
  d.className = 'leg';
  d.style.top = (92 + i * 48.6) + 'px';
  d.innerHTML = `<i style="background:${COLORS[legendKeys[i]]}"></i><span>${lab}</span>`;
  document.body.appendChild(d);
});

// shared axis titles
[[25, 322], [25, 950]].forEach(([cx, cy]) => {
  const d = document.createElement('div');
  d.className = 'axlab rot';
  d.style.left = cx + 'px'; d.style.top = cy + 'px';
  d.textContent = 'Energy (eV)';
  document.body.appendChild(d);
});
const xl = document.createElement('div');
xl.className = 'axlab hor';
xl.style.left = '623px'; xl.style.top = '1278px';
xl.textContent = 'Density of states (a.u.)';
document.body.appendChild(xl);
</script>
</body>
</html>
